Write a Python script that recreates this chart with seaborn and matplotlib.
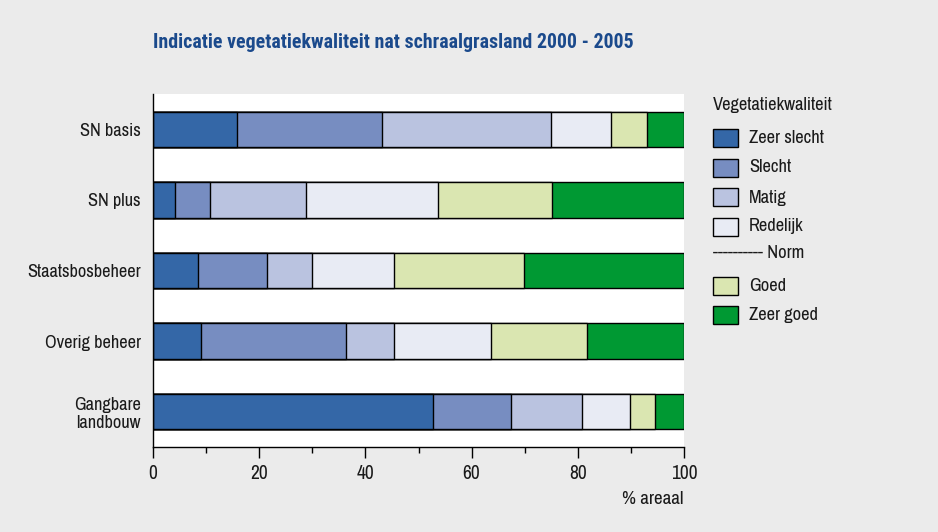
import pandas as pd
import numpy as np
import matplotlib
matplotlib.use("Agg")
import matplotlib.pyplot as plt
import seaborn as sns
from matplotlib.patches import Rectangle

# Data (% areaal per vegetation quality class)
categories = ['SN basis', 'SN plus', 'Staatsbosbeheer', 'Overig beheer', 'Gangbare\nlandbouw']
zeer_slecht = [15.9, 4.1, 8.4, 9.1, 52.7]
slecht = [27.3, 6.7, 13.1, 27.2, 14.8]
matig = [31.7, 18.1, 8.5, 9.1, 13.3]
redelijk = [11.4, 24.8, 15.3, 18.2, 9.0]
goed = [6.8, 21.5, 24.6, 18.2, 4.7]
zeer_goed = [6.9, 24.8, 30.1, 18.2, 5.5]

classes = ['Zeer slecht', 'Slecht', 'Matig', 'Redelijk', 'Goed', 'Zeer goed']
colors = ['#3467a7', '#778dc1', '#bac3e0', '#e8ebf4', '#dae6b1', '#009933']

sns.set_theme(style="white")
plt.rcParams['font.family'] = ['Archivo Narrow', 'Liberation Sans', 'DejaVu Sans']
title_font = ['Roboto Condensed', 'Liberation Sans', 'DejaVu Sans']

bg = '#ebebeb'
txt_col = '#1a1a1a'
fig = plt.figure(figsize=(9.38, 5.32), dpi=100, facecolor=bg)
ax = fig.add_axes([153/938, 1 - 447/532, 531/938, 353/532])
ax.set_facecolor('white')

df = pd.DataFrame({'category': categories, 'Zeer slecht': zeer_slecht, 'Slecht': slecht,
                   'Matig': matig, 'Redelijk': redelijk, 'Goed': goed, 'Zeer goed': zeer_goed})
cum = df[classes].cumsum(axis=1)

# draw cumulative bars from the longest to the shortest
for cls, col in reversed(list(zip(classes, colors))):
    sns.barplot(x=cum[cls], y=df['category'], orient='h', color=col, saturation=1,
                width=0.5, edgecolor='black', linewidth=1, ax=ax)

ax.set_xlim(0, 100)
ax.set_ylim(4.5, -0.5)
ax.set_xticks(range(0, 101, 20))
ax.set_xticks(range(10, 100, 20), minor=True)
ax.tick_params(axis='x', which='major', direction='out', length=8, width=1, color='black',
               bottom=True, labelsize=14, pad=4, labelcolor=txt_col)
ax.tick_params(axis='x', which='minor', direction='out', length=4, width=1, color='black',
               bottom=True)
ax.tick_params(axis='y', length=0, labelsize=13.2, pad=9, labelcolor=txt_col)
for lab in ax.get_yticklabels():
    lab.set_linespacing(1.15)
ax.set_ylabel('')
ax.set_xlabel('% areaal', fontsize=13.7, loc='right', labelpad=6, color=txt_col)
for s in ['top', 'right']:
    ax.spines[s].set_visible(False)
for s in ['left', 'bottom']:
    ax.spines[s].set_color('black')
    ax.spines[s].set_linewidth(1)

fig.text(153/938, 1 - 42/532, 'Indicatie vegetatiekwaliteit nat schraalgrasland 2000 - 2005',
         fontsize=14.3, fontweight='bold', color='#1b4a8c', va='center', ha='left',
         family=title_font)

# legend
lx = 713 / 938
fig.text(lx, 1 - 105/532, 'Vegetatiekwaliteit', fontsize=13.3, va='center', ha='left', color=txt_col)
rows = [138, 167.5, 197.5, 226.5, None, 286, 315]
i = 0
for y in rows:
    if y is None:
        fig.text(lx, 1 - 253/532, '---------- Norm', fontsize=13.3, va='center', ha='left', color=txt_col)
        continue
    fig.patches.append(Rectangle((lx, 1 - (y + 9)/532), 25/938, 18/532, transform=fig.transFigure,
                                 facecolor=colors[i], edgecolor='black', linewidth=1))
    fig.text(749/938, 1 - y/532, classes[i], fontsize=13.3, va='center', ha='left', color=txt_col)
    i += 1

fig.savefig('out.png', dpi=100, facecolor=bg)
